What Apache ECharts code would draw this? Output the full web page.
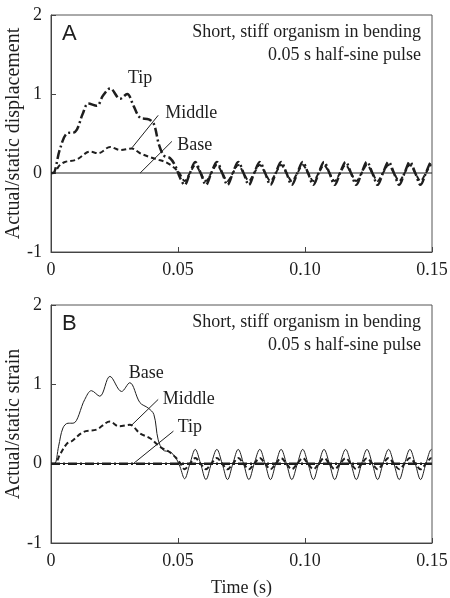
<!DOCTYPE html>
<html>
<head>
<meta charset="utf-8">
<script src="https://cdn.jsdelivr.net/npm/echarts@6/dist/echarts.min.js"></script>
<style>
html,body{margin:0;padding:0;background:#fff}
#chart{width:450px;height:598px}
</style>
</head>
<body>
<div id="chart"></div>
<script>
// tick labels
const xTickLabels = {0: '0', 0.05: '0.05', 0.1: '0.10', 0.15: '0.15'};
const yTickLabels = {2: '2', 1: '1', 0: '0', '-1': '-1'};

// rise phase (time s, value)
const aTipRise = [[0,0],[0.0008,0],[0.0035,0.30],[0.0062,0.50],[0.0095,0.52],[0.0125,0.75],[0.0147,0.88],[0.0180,0.85],[0.0205,0.98],[0.0233,1.07],[0.0272,0.94],[0.0300,1.00],[0.0325,0.85],[0.0351,0.70],[0.0385,0.68],[0.0405,0.62],[0.0425,0.36],[0.0445,0.22],[0.0468,0.19],[0.0488,0.10],[0.0508,-0.06]];
const aMidRise = [[0,0],[0.0008,0],[0.0035,0.10],[0.0055,0.14],[0.0101,0.17],[0.0154,0.27],[0.0186,0.25],[0.0233,0.33],[0.0272,0.29],[0.0318,0.31],[0.0351,0.25],[0.0390,0.20],[0.0420,0.17],[0.0450,0.14],[0.0480,0.08],[0.0505,0.00]];
const aBase = [[0,0],[0.15,0]];
const bBaseRise = [[0,0],[0.0014,0],[0.0030,0.22],[0.0047,0.45],[0.0067,0.51],[0.0087,0.51],[0.0133,0.81],[0.0159,0.92],[0.0192,0.85],[0.0232,1.10],[0.0278,0.91],[0.0310,1.02],[0.0350,0.77],[0.0383,0.70],[0.0405,0.62],[0.0422,0.30],[0.0442,0.17],[0.0468,0.15],[0.0490,0.08],[0.0508,-0.04]];
const bMidRise = [[0,0],[0.0014,0],[0.0036,0.12],[0.0062,0.25],[0.0080,0.28],[0.0128,0.40],[0.0180,0.43],[0.0232,0.53],[0.0268,0.47],[0.0310,0.49],[0.0351,0.38],[0.0390,0.32],[0.0430,0.21],[0.0465,0.15],[0.0490,0.08],[0.0508,0.01]];
const bTip = [[0,0],[0.15,0]];

// free vibration after the pulse: times and values
const oscT = [0.0526,0.0547,0.0568,0.0589,0.0610,0.0631,0.0653,0.0674,0.0695,0.0716,0.0737,0.0758,
  0.0779,0.0800,0.0822,0.0843,0.0864,0.0885,0.0906,0.0927,0.0948,0.0970,0.0991,0.1012,
  0.1033,0.1054,0.1075,0.1096,0.1117,0.1138,0.1160,0.1181,0.1202,0.1223,0.1244,0.1265,
  0.1286,0.1307,0.1329,0.1350,0.1371,0.1392,0.1413,0.1434,0.1455,0.1476,0.1498,0.1500];
const aTipOsc = [-0.15,0,0.14,0,-0.15,0,0.14,0,-0.15,0,0.14,0,
  -0.15,0,0.14,0,-0.15,0,0.14,0,-0.15,0,0.14,0,
  -0.15,0,0.14,0,-0.15,0,0.14,0,-0.15,0,0.14,0,
  -0.15,0,0.14,0,-0.15,0,0.14,0,-0.15,0,0.14,0.14];
const aMidOsc = [-0.10,0,0.10,0,-0.10,0,0.10,0,-0.10,0,0.10,0,
  -0.10,0,0.10,0,-0.10,0,0.10,0,-0.10,0,0.10,0,
  -0.10,0,0.10,0,-0.10,0,0.10,0,-0.10,0,0.10,0,
  -0.10,0,0.10,0,-0.10,0,0.10,0,-0.10,0,0.10,0.10];
const bBaseOsc = [-0.19,0,0.18,0,-0.20,0,0.18,0,-0.20,0,0.18,0,
  -0.20,0,0.18,0,-0.20,0,0.18,0,-0.20,0,0.18,0,
  -0.20,0,0.18,0,-0.20,0,0.18,0,-0.20,0,0.18,0,
  -0.20,0,0.18,0,-0.20,0,0.18,0,-0.20,0,0.18,0.18];
const bMidOsc = [-0.07,0,0.07,0,-0.07,0,0.07,0,-0.07,0,0.07,0,
  -0.07,0,0.07,0,-0.07,0,0.07,0,-0.07,0,0.07,0,
  -0.07,0,0.07,0,-0.07,0,0.07,0,-0.07,0,0.07,0,
  -0.07,0,0.07,0,-0.07,0,0.07,0,-0.07,0,0.07,0.07];

function join(rise, osc) {
  return rise.concat(oscT.map((t, i) => [t, osc[i]]));
}

const serif = 'Liberation Serif';
const ink = '#1e1e1e';

function xAx(gi, withName) {
  return {
    type: 'value', gridIndex: gi, min: 0, max: 0.15, interval: 0.05,
    name: withName ? 'Time (s)' : '', nameLocation: 'middle', nameGap: 36, nameMoveOverlap: false,
    nameTextStyle: {fontFamily: serif, fontSize: 18, color: ink},
    axisLine: {onZero: false, lineStyle: {color: '#444', width: 1}},
    axisTick: {inside: true, length: 5, lineStyle: {color: '#444'}},
    axisLabel: {fontFamily: serif, fontSize: 18, color: ink, margin: 9,
      formatter: v => xTickLabels[+v.toFixed(2)]},
    splitLine: {show: false}
  };
}
function yAx(gi, name) {
  return {
    type: 'value', gridIndex: gi, min: -1, max: 2, interval: 1,
    name: name, nameLocation: 'middle', nameGap: 27, nameMoveOverlap: false,
    nameTextStyle: {fontFamily: serif, fontSize: 20, color: ink},
    axisLine: {show: true, lineStyle: {color: '#444', width: 1}},
    axisTick: {show: true, inside: true, length: 5, lineStyle: {color: '#444'}},
    axisLabel: {fontFamily: serif, fontSize: 18, color: ink, margin: 9,
      formatter: v => yTickLabels[v]},
    splitLine: {show: false}
  };
}

const dashDot = [9, 3, 2, 3];
const dashed = [5, 3];
function leader(a, b) {
  return [{coord: a}, {coord: b}];
}

const chart = echarts.init(document.getElementById('chart'));
chart.setOption({
  animation: false,
  grid: [
    {left: 51, top: 15, width: 381, height: 237, show: true, borderColor: '#555', borderWidth: 1,
      containLabel: false, outerBoundsMode: 'none'},
    {left: 51, top: 305, width: 381, height: 238, show: true, borderColor: '#555', borderWidth: 1,
      containLabel: false, outerBoundsMode: 'none'}
  ],
  xAxis: [xAx(0, false), xAx(1, true)],
  yAxis: [yAx(0, 'Actual/static displacement'), yAx(1, 'Actual/static strain')],
  series: [
    {name: 'A Base', type: 'line', xAxisIndex: 0, yAxisIndex: 0, data: aBase, symbol: 'none',
      lineStyle: {color: ink, width: 1.2}},
    {name: 'A Middle', type: 'line', xAxisIndex: 0, yAxisIndex: 0, data: join(aMidRise, aMidOsc),
      symbol: 'none', smooth: 0.35, lineStyle: {color: ink, width: 2, type: dashed},
      markLine: {silent: true, symbol: 'none', label: {show: false},
        lineStyle: {color: ink, width: 1, type: 'solid'},
        data: [leader([0.0319, 0.32], [0.0422, 0.73]), leader([0.0351, 0], [0.0476, 0.40])]}},
    {name: 'A Tip', type: 'line', xAxisIndex: 0, yAxisIndex: 0, data: join(aTipRise, aTipOsc),
      symbol: 'none', smooth: 0.35, lineStyle: {color: ink, width: 2.5, type: dashDot}},
    {name: 'B Tip', type: 'line', xAxisIndex: 1, yAxisIndex: 1, data: bTip, symbol: 'none',
      lineStyle: {color: ink, width: 2.5, type: dashDot},
      markLine: {silent: true, symbol: 'none', label: {show: false},
        lineStyle: {color: ink, width: 1.2, type: 'solid'}, data: [{yAxis: 0}]}},
    {name: 'B Middle', type: 'line', xAxisIndex: 1, yAxisIndex: 1, data: join(bMidRise, bMidOsc),
      symbol: 'none', smooth: 0.35, lineStyle: {color: ink, width: 2, type: dashed},
      markLine: {silent: true, symbol: 'none', label: {show: false},
        lineStyle: {color: ink, width: 1, type: 'solid'},
        data: [leader([0.0319, 0.49], [0.0422, 0.81]), leader([0.0324, 0], [0.0482, 0.41])]}},
    {name: 'B Base', type: 'line', xAxisIndex: 1, yAxisIndex: 1, data: join(bBaseRise, bBaseOsc),
      symbol: 'none', smooth: 0.35, lineStyle: {color: ink, width: 1, type: 'solid'}}
  ]
});

// text labels placed through the axes
const notes = [
  {g: 0, at: [0.0351, 1.20], text: 'Tip', align: 'center'},
  {g: 0, at: [0.0450, 0.76], text: 'Middle', align: 'left'},
  {g: 0, at: [0.0497, 0.35], text: 'Base', align: 'left'},
  {g: 1, at: [0.0375, 1.14], text: 'Base', align: 'center'},
  {g: 1, at: [0.0440, 0.81], text: 'Middle', align: 'left'},
  {g: 1, at: [0.0499, 0.46], text: 'Tip', align: 'left'}
];
const graphics = notes.map(n => {
  const p = chart.convertToPixel({gridIndex: n.g}, n.at);
  return {type: 'text', x: p[0], y: p[1],
    style: {text: n.text, fill: ink, font: '18px "Liberation Serif"', align: n.align, verticalAlign: 'middle'}};
});
[[15, 'A'], [305, 'B']].forEach(([top, letter]) => {
  graphics.push({type: 'text', x: 62, y: top + 19,
    style: {text: letter, fill: ink, font: '22px "Liberation Sans"', align: 'left', verticalAlign: 'middle'}});
  graphics.push({type: 'text', x: 421, y: top + 17,
    style: {text: 'Short, stiff organism in bending', fill: ink, font: '18px "Liberation Serif"', align: 'right', verticalAlign: 'middle'}});
  graphics.push({type: 'text', x: 421, y: top + 40,
    style: {text: '0.05 s half-sine pulse', fill: ink, font: '18px "Liberation Serif"', align: 'right', verticalAlign: 'middle'}});
});
chart.setOption({graphic: graphics});
</script>
</body>
</html>
